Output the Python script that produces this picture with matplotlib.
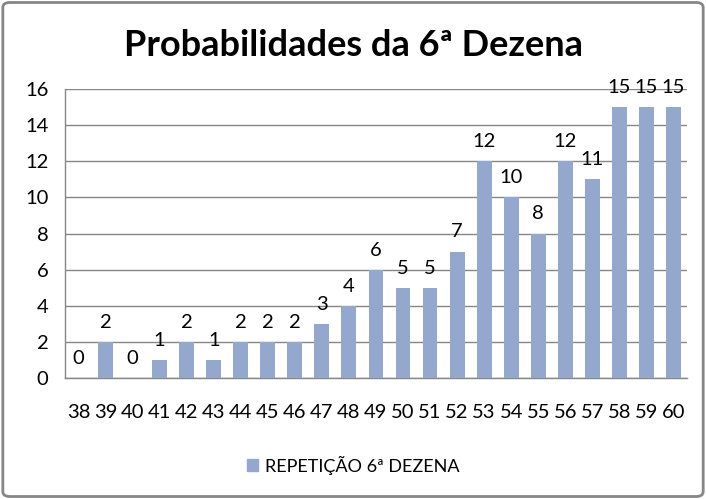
import matplotlib
matplotlib.use('Agg')
import matplotlib.pyplot as plt
from matplotlib.patches import FancyBboxPatch, Patch

plt.rcParams['font.family'] = ['Lato', 'DejaVu Sans']

# --- data --- #
dezenas = [str(n) for n in range(38, 61)]
repeticoes = [0, 2, 0, 1, 2, 1, 2, 2, 2, 3, 4, 6, 5, 5, 7, 12, 10, 8, 12, 11, 15, 15, 15]
serie = 'REPETIÇÃO 6ª DEZENA'
titulo = 'Probabilidades da 6ª Dezena'

bar_color = '#94a7cd'
grid_color = '#868686'

fig = plt.figure(figsize=(7.06, 4.99), dpi=100)
ax = fig.add_axes([0.092, 0.2425, 0.881, 0.579])

x = list(range(len(dezenas)))
bars = ax.bar(x, repeticoes, width=0.55, color=bar_color, zorder=3)
for xi, v in zip(x, repeticoes):
    ax.annotate(str(v), (xi, v), xytext=(0, 8), textcoords='offset points',
                ha='center', va='bottom', fontsize=14.5, color='black', zorder=4)

ax.set_xlim(-0.5, len(dezenas) - 0.5)
ax.set_ylim(0, 16)
ax.set_yticks(range(0, 17, 2))
ax.set_xticks(x)
ax.set_xticklabels(dezenas)
ax.yaxis.grid(True, color=grid_color, linewidth=1, zorder=0)
ax.set_axisbelow(True)

for side in ['top', 'right']:
    ax.spines[side].set_visible(False)
for side in ['left', 'bottom']:
    ax.spines[side].set_color(grid_color)
    ax.spines[side].set_linewidth(1)

ax.tick_params(axis='both', length=0, labelsize=14.5)
ax.tick_params(axis='x', pad=19)
ax.tick_params(axis='y', pad=12)

fig.text(0.5, 0.908, titulo, ha='center', va='center', fontsize=26, fontweight='bold')

fig.legend(handles=[Patch(color=bar_color, label=serie)], loc='center',
           bbox_to_anchor=(0.5, 0.068), frameon=False, fontsize=13,
           handlelength=0.6, handleheight=0.6, handletextpad=0.4)

# outer rounded border
border = FancyBboxPatch((0.004, 0.005), 0.992, 0.99, boxstyle='round,pad=0,rounding_size=0.01',
                        transform=fig.transFigure, fill=False, edgecolor='#868686', linewidth=2)
fig.patches.append(border)

plt.savefig('out.png', dpi=100)
